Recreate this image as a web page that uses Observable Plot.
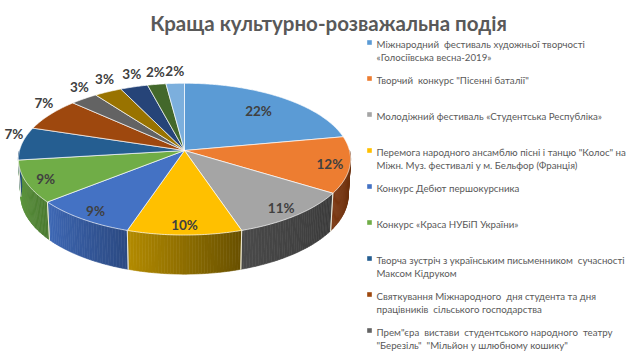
<!DOCTYPE html>
<html>
<head>
<meta charset="utf-8">
<script src="https://cdn.jsdelivr.net/npm/d3@7"></script>
<script src="https://cdn.jsdelivr.net/npm/@observablehq/plot@0.6"></script>
<style>
  html, body { margin: 0; padding: 0; background: #fff; }
  #chart { width: 640px; height: 360px; }
</style>
</head>
<body>
<div id="chart"></div>
<script>
// ---- data ----
const title = "Краща культурно-розважальна подія";
const categories = [
  "Міжнародний  фестиваль художньої творчості\n«Голосіївська весна-2019»",
  "Творчий  конкурс \"Пісенні баталії\"",
  "Молодіжний фестиваль «Студентська Республіка»",
  "Перемога народного ансамблю пісні і танцю \"Колос\" на\nМіжн. Муз. фестивалі у м. Бельфор (Франція)",
  "Конкурс Дебют першокурсника",
  "Конкурс «Краса НУБіП України»",
  "Творча зустріч з українським письменником  сучасності\nМаксом Кідруком",
  "Святкування Міжнародного  дня студента та дня\nпрацівників  сільського господарства",
  "Прем\"єра  вистави  студентського народного  театру\n\"Березіль\"  \"Мільйон у шлюбному кошику\""
];
const values = [22, 12, 11, 10, 9, 9, 7, 7, 3, 3, 3, 2, 2];
const colors = ["#5B9BD5", "#ED7D31", "#A5A5A5", "#FFC000", "#4472C4", "#70AD47",
                "#255E91", "#9E480E", "#636363", "#997300", "#264478", "#43682B", "#7CAFDD"];
// side wall shading (left end, right end)
const wallColors = [
  ["#3f6f99", "#2e5273"], ["#7b3812", "#5a2808"], ["#4a4a4a", "#3a3a3a"], ["#b38b00", "#685000"],
  ["#3e68b5", "#2c4a82"], ["#5f9a3e", "#4a7a30"], ["#2a5e8e", "#1f4a72"], ["#6e320a", "#522507"],
  ["#474747", "#363636"], ["#6c5200", "#503c00"], ["#1c3156", "#142440"], ["#30491e", "#223515"],
  ["#5a7fa0", "#44607a"]
];

// ---- 3D projection of the pie disc ----
const cx = 184, cy = 150;
const E = 27 * Math.PI / 180, sinE = Math.sin(E), cosE = Math.cos(E);
const R = 0.128, F = 1289, H = 0.0317;
function proj(deg, r, z) {
  const a = deg * Math.PI / 180;
  const X = r * R * Math.sin(a), Y = r * R * Math.cos(a), Z = z;
  const depth = 1 + Y * cosE - Z * sinE;
  return [cx + F * X / depth, cy - F * (Y * sinE + Z * cosE) / depth];
}

const total = d3.sum(values);
const slices = [];
let acc = 0;
values.forEach((v, i) => {
  const a = acc / total * 360; acc += v;
  const b = acc / total * 360;
  slices.push({i, v, a, b});
});

// walls
const wallData = [];
const edgeData = [];
slices.forEach(s => {
  const lo = Math.max(s.a, 90), hi = Math.min(s.b, 270);
  if (lo >= hi) return;
  const n = Math.max(1, Math.ceil(hi - lo));
  const interp = d3.interpolateRgb(wallColors[s.i][0], wallColors[s.i][1]);
  for (let j = 0; j < n; j++) {
    const p0 = lo + (hi - lo) * j / n, p1 = lo + (hi - lo) * (j + 1) / n;
    const t = (s.b - (p0 + p1) / 2) / (s.b - s.a);
    const c = interp(t);
    const id = `w${s.i}_${j}`;
    [[p0, 0], [p1, 0], [p1, -H], [p0, -H], [p0, 0]].forEach(([p, z]) => {
      const [x, y] = proj(p, 1, z);
      wallData.push({id, x, y, fill: c});
    });
  }
  [s.a, s.b].forEach(p => {
    if (p > 90 && p < 270) {
      const id = `e${s.i}_${p}`;
      [0, -H].forEach(z => { const [x, y] = proj(p, 1, z); edgeData.push({id, x, y}); });
    }
  });
});

// top faces
const topData = [];
slices.forEach(s => {
  const id = `t${s.i}`;
  const pts = [[cx, cy]];
  const n = Math.max(2, Math.ceil((s.b - s.a) / 0.5));
  for (let j = 0; j <= n; j++) pts.push(proj(s.a + (s.b - s.a) * j / n, 1, 0));
  pts.push([cx, cy]);
  pts.forEach(([x, y]) => topData.push({id, x, y, fill: colors[s.i]}));
});

// labels
const labelData = slices.map(s => {
  const mid = (s.a + s.b) / 2;
  const inside = s.v >= 8;
  const r = inside ? (s.v > 15 ? 0.75 : 0.88) : 1.05;
  const [x, y] = proj(mid, r, 0);
  return {x, y: y + (inside ? 2 : -9), text: s.v + "%"};
});

// legend
const legendData = categories.map((name, i) => ({name, color: colors[i], y: 42 + 36 * i}));

const chart = Plot.plot({
  width: 640, height: 360, margin: 0,
  x: {domain: [0, 640], range: [0, 640], axis: null},
  y: {domain: [0, 360], range: [0, 360], axis: null},
  color: {type: "identity"},
  style: {fontFamily: "Lato, 'Open Sans', sans-serif", background: "#fff"},
  marks: [
    Plot.line(wallData, {x: "x", y: "y", z: "id", fill: "fill", stroke: "fill", strokeWidth: 0.6, curve: "linear"}),
    Plot.line(edgeData, {x: "x", y: "y", z: "id", stroke: "#f3f0e0", strokeWidth: 0.9, strokeOpacity: 0.85}),
    Plot.line(topData, {x: "x", y: "y", z: "id", fill: "fill", stroke: "#ffffff", strokeWidth: 0.8, strokeOpacity: 0.85, strokeLinejoin: "round", curve: "linear"}),
    Plot.text(labelData, {x: "x", y: "y", text: "text", fontSize: 13.5, fontWeight: "bold", fill: "#404040"}),
    Plot.text([title], {x: () => 328, y: () => 24, text: d => d, fontSize: 20.5, fontWeight: "bold", fill: "#595959"}),
    Plot.dot(legendData, {x: () => 369, y: "y", symbol: "square", r: 2.6, fill: "color", stroke: null}),
    Plot.text(legendData, {x: () => 376, y: d => d.y - 4.4, text: "name", textAnchor: "start", lineAnchor: "top", lineHeight: 1.38, fontSize: 9.7, fill: "#595959"})
  ]
});
document.getElementById("chart").appendChild(chart);
</script>
</body>
</html>
